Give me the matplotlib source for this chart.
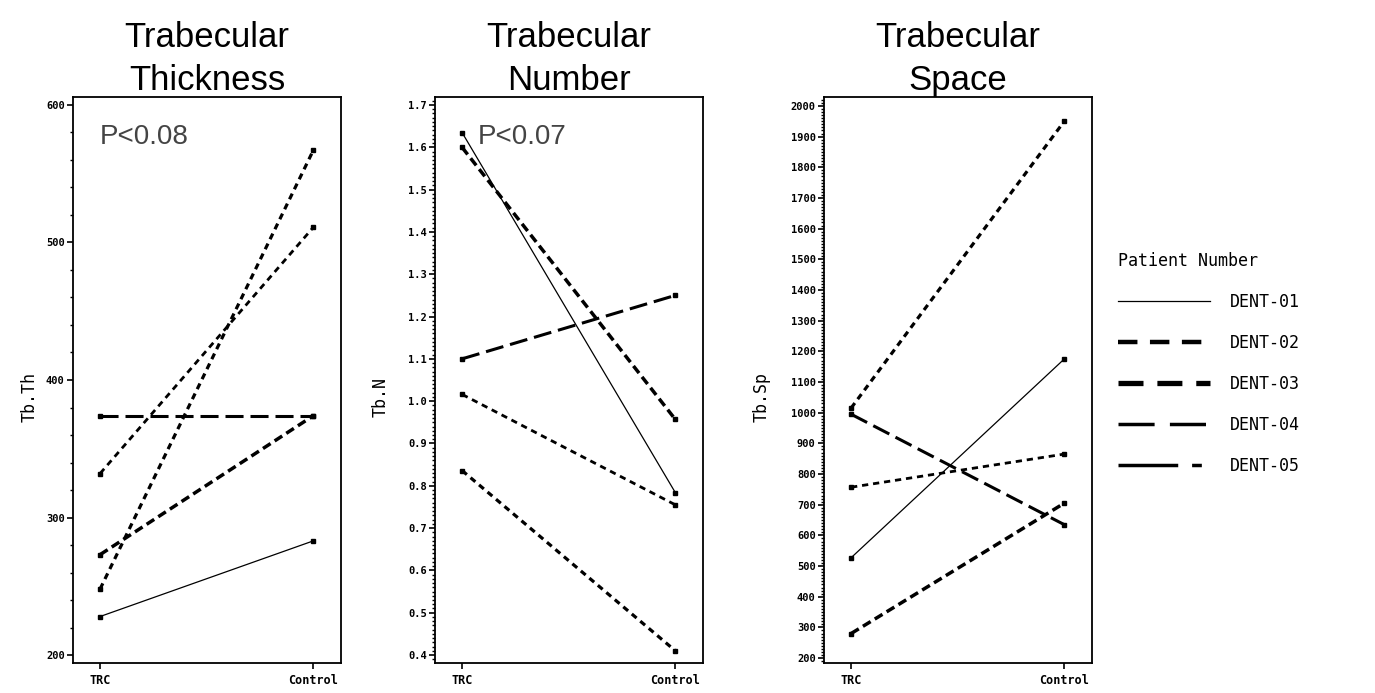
import numpy as np
import matplotlib
matplotlib.use('Agg')
import matplotlib.pyplot as plt
from matplotlib.lines import Line2D
from matplotlib.ticker import MultipleLocator

plt.rcParams['lines.scale_dashes'] = False

# data
groups = ['TRC', 'Control']
patients = ['DENT-01', 'DENT-02', 'DENT-03', 'DENT-04', 'DENT-05']

tb_th = {'DENT-01': [228, 283], 'DENT-02': [248, 567], 'DENT-03': [273, 374],
         'DENT-04': [374, 374], 'DENT-05': [332, 511]}
tb_n = {'DENT-01': [1.635, 0.784], 'DENT-02': [0.836, 0.41], 'DENT-03': [1.60, 0.957],
        'DENT-04': [1.10, 1.25], 'DENT-05': [1.016, 0.755]}
tb_sp = {'DENT-01': [527, 1175], 'DENT-02': [1015, 1950], 'DENT-03': [280, 705],
         'DENT-04': [995, 635], 'DENT-05': [757, 865]}

titles = ['Trabecular\nThickness', 'Trabecular\nNumber', 'Trabecular\nSpace']
ylabels = ['Tb.Th', 'Tb.N', 'Tb.Sp']
pvalues = ['P<0.08', 'P<0.07', None]

# line styles in the panels
styles = {
    'DENT-01': dict(ls='-', lw=0.9),
    'DENT-02': dict(ls=(0, (4.5, 3.5)), lw=2.3),
    'DENT-03': dict(ls=(0, (6.5, 3.5)), lw=2.5),
    'DENT-04': dict(ls=(0, (13, 5)), lw=2.2),
    'DENT-05': dict(ls=(0, (4.5, 3.5)), lw=2.0),
}
# line styles drawn in the legend
leg_styles = {
    'DENT-01': dict(ls='-', lw=0.9),
    'DENT-02': dict(ls=(0, (14, 9)), lw=3.2),
    'DENT-03': dict(ls=(0, (18, 10)), lw=3.8),
    'DENT-04': dict(ls=(0, (26, 11)), lw=2.5),
    'DENT-05': dict(ls=(0, (43, 10, 7, 10)), lw=2.5),
}

mono = 'DejaVu Sans Mono'
fig = plt.figure(figsize=(13.75, 6.93), dpi=100)

lefts = [73, 435, 824]
W, H = 1375, 693
panels = [
    (tb_th, (194.2, 605.8), 100, 20, '%d'),
    (tb_n, (0.381, 1.719), 0.1, 0.01, '%.1f'),
    (tb_sp, (184, 2029), 100, 10, '%d'),
]
ylab_x = [-0.13, -0.168, -0.20]
p_x = [0.10, 0.16]

for i, (data, ylim, major, minor, fmt) in enumerate(panels):
    ax = fig.add_axes([lefts[i] / W, 1 - 663 / H, 268 / W, 566 / H])
    x = np.arange(len(groups))
    for p in patients:
        st = styles[p]
        ax.plot(x, data[p], color='black', linestyle=st['ls'], linewidth=st['lw'],
                marker='s', markersize=3.2, solid_capstyle='butt', dash_capstyle='butt')
    ax.set_xlim(-0.127, 1.13)
    ax.set_ylim(*ylim)
    ax.set_xticks(x)
    ax.set_xticklabels(groups, fontfamily=mono, fontweight='bold', fontsize=8.5)
    ax.yaxis.set_major_locator(MultipleLocator(major))
    ax.yaxis.set_minor_locator(MultipleLocator(minor))
    ax.set_yticklabels([fmt % v for v in ax.get_yticks()], fontfamily=mono,
                       fontweight='bold', fontsize=7.5)
    ax.set_ylim(*ylim)
    ax.tick_params(axis='y', which='major', direction='out', length=4, width=1.2, pad=2)
    ax.tick_params(axis='y', which='minor', direction='out', length=2, width=1)
    ax.tick_params(axis='x', direction='out', length=4, width=1.2, pad=4)
    for s in ax.spines.values():
        s.set_linewidth(1.3)
    ax.set_ylabel(ylabels[i], fontfamily=mono, fontsize=12)
    ax.yaxis.set_label_coords(ylab_x[i], 0.47)
    ax.set_title(titles[i], fontfamily='Liberation Sans', fontsize=25, pad=5,
                 linespacing=1.38)
    if pvalues[i]:
        ax.text(p_x[i], 0.93, pvalues[i], transform=ax.transAxes, fontsize=20,
                fontfamily='Liberation Sans', color='#444444', va='center')

handles = [Line2D([], [], color='black', linestyle=leg_styles[p]['ls'],
                  linewidth=leg_styles[p]['lw'], dash_capstyle='butt')
           for p in patients]
leg = fig.legend(handles, patients, loc='upper left',
                 bbox_to_anchor=(1103 / W, 1 - 237 / H), frameon=False,
                 title='Patient Number', title_fontproperties={'family': mono, 'size': 12},
                 prop={'family': mono, 'size': 12}, handlelength=5.5,
                 labelspacing=1.38, handletextpad=1.2, alignment='left')

plt.savefig('out.png', dpi=100)
